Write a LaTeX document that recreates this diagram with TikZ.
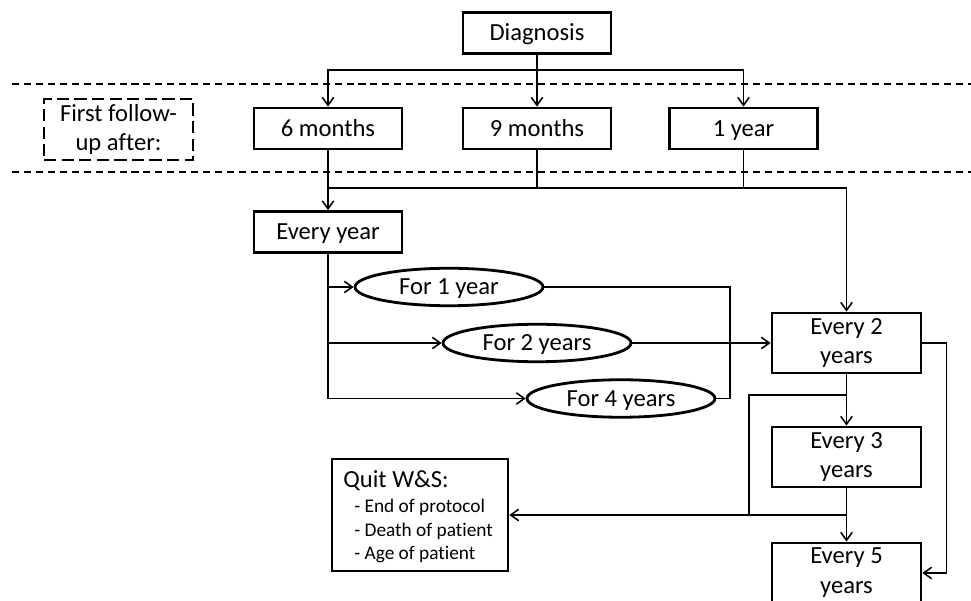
\documentclass[tikz,border=0pt]{standalone}
\usepackage{fontspec}
\setmainfont{Carlito}[Ligatures={NoCommon}]
\usetikzlibrary{arrows.meta,shapes.geometric}
\begin{document}
\begin{tikzpicture}[x=0.02cm,y=-0.02cm,
  box/.style={draw, line width=1.6pt, rectangle, minimum width=2.96cm, minimum height=0.82cm, inner sep=0pt, font=\fontsize{14}{17}\selectfont, align=center},
  one line/.style={text height=9pt, text depth=0pt},
  tall/.style={box, minimum width=2.98cm, minimum height=1.2cm},
  oval/.style={draw, line width=1.6pt, ellipse, minimum width=3.76cm, minimum height=0.75cm, inner sep=0pt, font=\fontsize{14}{17}\selectfont, one line},
  conn/.style={line width=0.9pt},
  arr/.style={conn, -{Straight Barb[length=4.5pt,width=6.5pt]}},
  sep/.style={line width=0.9pt, dash pattern=on 4pt off 2.8pt},
  txt/.style={anchor=base west, inner sep=0pt}
]
\useasboundingbox (0,0) rectangle (971,601);

% separators
\draw[sep] (12,84) -- (971,84);
\draw[sep] (12,172) -- (971,172);

% nodes
\node[box, one line] (diag) at (537,33) {Diagnosis};
\node[box, dash pattern=on 7pt off 3pt, minimum width=2.98cm, minimum height=1.22cm] (first) at (118.5,129.5) {First follow-\\up after:};
\node[box, one line] (six) at (328,128.5) {6 months};
\node[box, one line] (nine) at (537,128.5) {9 months};
\node[box, one line] (one) at (743.5,128.5) {1 year};
\node[box, one line] (ey) at (328,232) {Every year};
\node[oval] (f1) at (449,287) {For 1 year};
\node[oval] (f2) at (537,343) {For 2 years};
\node[oval] (f4) at (621,398.5) {For 4 years};
\node[tall] (e2) at (846.5,343) {Every 2\\years};
\node[tall] (e3) at (846.5,457) {Every 3\\years};
\node[tall] (e5) at (846.5,573) {Every 5\\years};
\node[box, minimum width=3.52cm, minimum height=2.24cm] (quit) at (420,515) {};
\node[txt, font=\fontsize{14}{17}\selectfont] (qt) at (343,487) {Quit W\&S:};
\node[txt, font=\fontsize{11}{13.6}\selectfont] (q1) at (354,512) {- End of protocol};
\node[txt, font=\fontsize{11}{13.6}\selectfont] (q2) at (354,536) {- Death of patient};
\node[txt, font=\fontsize{11}{13.6}\selectfont] (q3) at (354,559) {- Age of patient};

% helper coordinates
\coordinate (j) at (846.5,188);
\coordinate (br) at (730,343);
\coordinate (m1) at (749,395);
\coordinate (m2) at (749,515);

% connectors
\draw[arr] (diag.south) -- ++(0,15) -| (six.north);
\draw[arr] (diag.south) -- (nine.north);
\draw[arr] (diag.south) -- ++(0,15) -| (one.north);
\draw[arr] (six.south) -- (ey.north);
\draw[conn] (nine.south) -- (nine.south |- j);
\draw[conn] (one.south) -- (one.south |- j);
\draw[arr] (six.south |- j) -- (j) -- (e2.north);
\draw[arr] (ey.south) |- (f1.west);
\draw[arr] (ey.south) |- (f2.west);
\draw[arr] (ey.south) |- (f4.west);
\draw[conn] (f1.east) -| (br) |- (f4.east);
\draw[arr] (f2.east) -- (e2.west);
\draw[arr] (e2.east) -- ++(24,0) |- (e5.east);
\draw[arr] (e2.south) -- (e3.north);
\draw[conn] (e2.south) |- (m1) -- (m2);
\draw[arr] (e3.south) -- (e5.north);
\draw[arr] (e3.south) |- (quit.east);
\end{tikzpicture}
\end{document}
